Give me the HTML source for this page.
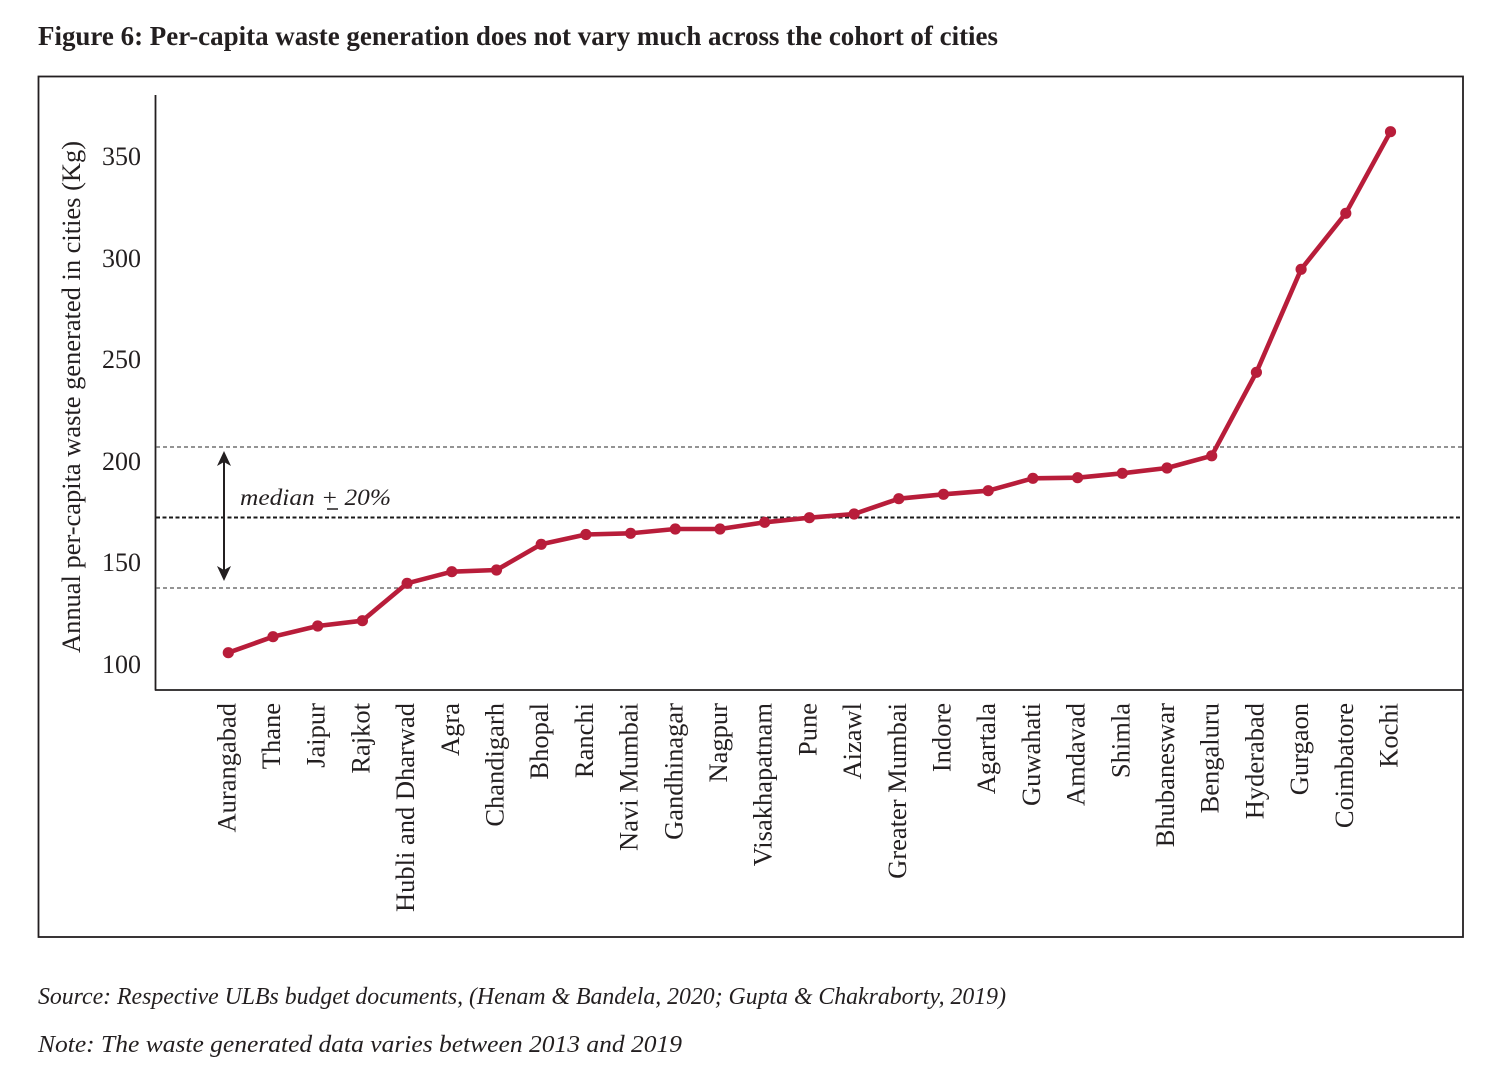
<!DOCTYPE html>
<html><head><meta charset="utf-8"><style>
html,body{margin:0;padding:0;background:#fff;}
svg{display:block;}
text{font-family:"Liberation Serif",serif;fill:#231f20;}
</style></head><body>
<svg width="1500" height="1084" viewBox="0 0 1500 1084" xmlns="http://www.w3.org/2000/svg">
<rect x="0" y="0" width="1500" height="1084" fill="#fff"/>
<text x="38" y="45" font-size="27" font-weight="bold" textLength="960" lengthAdjust="spacingAndGlyphs">Figure 6: Per-capita waste generation does not vary much across the cohort of cities</text>
<rect x="38.5" y="76.5" width="1424.5" height="860.5" fill="none" stroke="#231f20" stroke-width="1.8"/>
<line x1="155.5" y1="95" x2="155.5" y2="690.5" stroke="#231f20" stroke-width="1.8"/>
<line x1="155" y1="690" x2="1463" y2="690" stroke="#231f20" stroke-width="1.8"/>
<g font-size="26" text-anchor="end">
<text x="141" y="673">100</text>
<text x="141" y="571">150</text>
<text x="141" y="470">200</text>
<text x="141" y="368">250</text>
<text x="141" y="267">300</text>
<text x="141" y="165">350</text>
</g>
<text transform="translate(80,397) rotate(-90)" font-size="26" text-anchor="middle" textLength="512" lengthAdjust="spacingAndGlyphs">Annual per-capita waste generated in cities (Kg)</text>
<g fill="none">
<line x1="156" y1="447" x2="1462" y2="447" stroke="#555" stroke-width="1.3" stroke-dasharray="4,3"/>
<line x1="156" y1="517.5" x2="1462" y2="517.5" stroke="#1a1a1a" stroke-width="1.9" stroke-dasharray="4,2.5"/>
<line x1="156" y1="588" x2="1462" y2="588" stroke="#555" stroke-width="1.3" stroke-dasharray="4,3"/>
</g>
<line x1="224" y1="462" x2="224" y2="570" stroke="#231f20" stroke-width="2"/>
<polygon points="224,451 217,466 224,462 231,466" fill="#231f20"/>
<polygon points="224,581 217,566 224,570 231,566" fill="#231f20"/>
<text x="240" y="505" font-size="23" font-style="italic" textLength="151" lengthAdjust="spacingAndGlyphs">median + 20%</text>
<line x1="327" y1="509" x2="338" y2="509" stroke="#231f20" stroke-width="1.5"/>
<polyline fill="none" stroke="#b81d3a" stroke-width="4.6" stroke-linejoin="round" points="228.3,652.7 273,636.7 317.7,626 362.4,620.7 407.1,583.3 451.8,571.7 496.5,570 541.2,544.3 585.9,534.5 630.6,533.3 675.3,529 720,529 764.7,522.3 809.4,517.7 854.1,514 898.8,498.7 943.5,494.3 988.2,490.7 1032.9,478.3 1077.6,477.7 1122.3,473.3 1167,468 1211.7,455.8 1256.4,372.3 1301.1,269.3 1345.8,213.3 1390.5,131.7"/>
<g fill="#b81d3a">
<circle cx="228.3" cy="652.7" r="5.6"/><circle cx="273" cy="636.7" r="5.6"/><circle cx="317.7" cy="626" r="5.6"/><circle cx="362.4" cy="620.7" r="5.6"/><circle cx="407.1" cy="583.3" r="5.6"/><circle cx="451.8" cy="571.7" r="5.6"/><circle cx="496.5" cy="570" r="5.6"/><circle cx="541.2" cy="544.3" r="5.6"/><circle cx="585.9" cy="534.5" r="5.6"/><circle cx="630.6" cy="533.3" r="5.6"/><circle cx="675.3" cy="529" r="5.6"/><circle cx="720" cy="529" r="5.6"/><circle cx="764.7" cy="522.3" r="5.6"/><circle cx="809.4" cy="517.7" r="5.6"/><circle cx="854.1" cy="514" r="5.6"/><circle cx="898.8" cy="498.7" r="5.6"/><circle cx="943.5" cy="494.3" r="5.6"/><circle cx="988.2" cy="490.7" r="5.6"/><circle cx="1032.9" cy="478.3" r="5.6"/><circle cx="1077.6" cy="477.7" r="5.6"/><circle cx="1122.3" cy="473.3" r="5.6"/><circle cx="1167" cy="468" r="5.6"/><circle cx="1211.7" cy="455.8" r="5.6"/><circle cx="1256.4" cy="372.3" r="5.6"/><circle cx="1301.1" cy="269.3" r="5.6"/><circle cx="1345.8" cy="213.3" r="5.6"/><circle cx="1390.5" cy="131.7" r="5.6"/>
</g>
<g font-size="26.5" text-anchor="end">
<text transform="translate(235.3,703) rotate(-90)">Aurangabad</text>
<text transform="translate(280,703) rotate(-90)">Thane</text>
<text transform="translate(324.7,703) rotate(-90)">Jaipur</text>
<text transform="translate(369.4,703) rotate(-90)">Rajkot</text>
<text transform="translate(414.1,703) rotate(-90)">Hubli and Dharwad</text>
<text transform="translate(458.8,703) rotate(-90)">Agra</text>
<text transform="translate(503.5,703) rotate(-90)">Chandigarh</text>
<text transform="translate(548.2,703) rotate(-90)">Bhopal</text>
<text transform="translate(592.9,703) rotate(-90)">Ranchi</text>
<text transform="translate(637.6,703) rotate(-90)">Navi Mumbai</text>
<text transform="translate(682.3,703) rotate(-90)">Gandhinagar</text>
<text transform="translate(727,703) rotate(-90)">Nagpur</text>
<text transform="translate(771.7,703) rotate(-90)">Visakhapatnam</text>
<text transform="translate(816.4,703) rotate(-90)">Pune</text>
<text transform="translate(861.1,703) rotate(-90)">Aizawl</text>
<text transform="translate(905.8,703) rotate(-90)">Greater Mumbai</text>
<text transform="translate(950.5,703) rotate(-90)">Indore</text>
<text transform="translate(995.2,703) rotate(-90)">Agartala</text>
<text transform="translate(1039.9,703) rotate(-90)">Guwahati</text>
<text transform="translate(1084.6,703) rotate(-90)">Amdavad</text>
<text transform="translate(1129.3,703) rotate(-90)">Shimla</text>
<text transform="translate(1174,703) rotate(-90)">Bhubaneswar</text>
<text transform="translate(1218.7,703) rotate(-90)">Bengaluru</text>
<text transform="translate(1263.4,703) rotate(-90)">Hyderabad</text>
<text transform="translate(1308.1,703) rotate(-90)">Gurgaon</text>
<text transform="translate(1352.8,703) rotate(-90)">Coimbatore</text>
<text transform="translate(1397.5,703) rotate(-90)">Kochi</text>
</g>
<text x="38" y="1004" font-size="24" font-style="italic" textLength="968" lengthAdjust="spacingAndGlyphs">Source: Respective ULBs budget documents, (Henam &amp; Bandela, 2020; Gupta &amp; Chakraborty, 2019)</text>
<text x="38" y="1052" font-size="24" font-style="italic" textLength="644" lengthAdjust="spacingAndGlyphs">Note: The waste generated data varies between 2013 and 2019</text>
</svg>
</body></html>
